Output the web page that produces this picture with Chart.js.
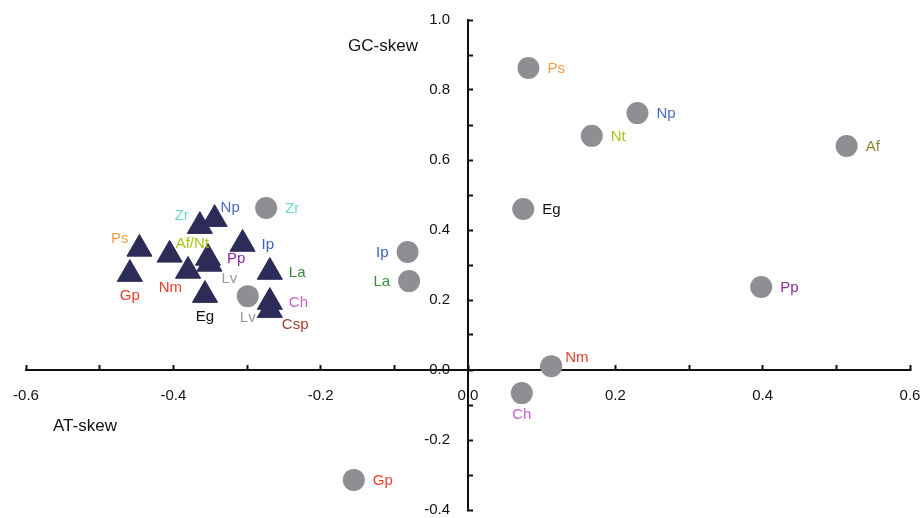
<!DOCTYPE html>
<html>
<head>
<meta charset="utf-8">
<script src="https://cdn.jsdelivr.net/npm/chart.js@4"></script>
<style>
  html, body { margin: 0; padding: 0; background: #fff; }
  #wrap { width: 921px; height: 518px; position: relative; }
</style>
</head>
<body>
<div id="wrap"><canvas id="chart"></canvas></div>
<script>
// circles (GC-skew by genome)
const circleNames = ['Ps', 'Np', 'Nt', 'Af', 'Eg', 'Zr', 'Ip', 'La', 'Pp', 'Nm', 'Ch', 'Lv', 'Gp'];
const circleX = [0.082, 0.230, 0.168, 0.514, 0.075, -0.274, -0.082, -0.080, 0.398, 0.113, 0.073, -0.299, -0.155];
const circleY = [0.863, 0.734, 0.669, 0.640, 0.460, 0.463, 0.337, 0.254, 0.237, 0.011, -0.066, 0.211, -0.314];

// triangles
const triNames = ['Ps', 'Gp', 'Af/Nt', 'Nm', 'Zr', 'Np', 'Pp', 'Lv', 'Eg', 'Ip', 'La', 'Ch', 'Csp'];
const triX = [-0.446, -0.459, -0.405, -0.380, -0.364, -0.344, -0.353, -0.351, -0.357, -0.306, -0.269, -0.269, -0.269];
const triY = [0.346, 0.274, 0.329, 0.283, 0.411, 0.431, 0.320, 0.303, 0.214, 0.360, 0.280, 0.194, 0.171];

const xTickLabels = ['-0.6', '-0.4', '-0.2', '0.0', '0.2', '0.4', '0.6'];
const yTickLabels = ['-0.4', '-0.2', '0.0', '0.2', '0.4', '0.6', '0.8', '1.0'];

// label placement (which side of the mark)
const circleAnchor = ['e', 'e', 'e', 'e', 'e', 'e', 'w', 'w', 'e', 'ne', 's', 's', 'e'];
const triAnchor = ['nw', 's', 'tne', 'sw', 'nw', 'tne', 'e', 'se', 's', 'e', 'e', 'e', 'se'];

const nameColors = {
  'Ps': '#f5a040', 'Np': '#4a6cc0', 'Nt': '#a8c41c', 'Af': '#8c8a38', 'Af/Nt': '#a8c41c',
  'Eg': '#111111', 'Zr': '#6ed6d0', 'Ip': '#3c5cc0', 'La': '#3a8a3a', 'Pp': '#8a2a9c',
  'Nm': '#e8402e', 'Ch': '#c862d2', 'Lv': '#9a9a9a', 'Gp': '#e8402e', 'Csp': '#a0402a'
};

const FONT = '"Liberation Sans", Arial, Helvetica, sans-serif';

// ラベル位置のずらし量
const anchorOffset = {
  e: [19, 1, 'left'], w: [-19, 1, 'right'], s: [0, 22, 'center'],
  ne: [14, -8, 'left'], tne: [6, -11, 'left'], nw: [-11, -10, 'right'],
  se: [12, 15, 'left'], sw: [-6, 17, 'right']
};

const pointLabels = {
  id: 'pointLabels',
  afterDatasetsDraw(chart) {
    const ctx = chart.ctx;
    ctx.save();
    ctx.font = '15px ' + FONT;
    ctx.textBaseline = 'middle';
    chart.data.datasets.forEach((ds, di) => {
      const meta = chart.getDatasetMeta(di);
      meta.data.forEach((el, i) => {
        const name = ds.names[i];
        const off = anchorOffset[ds.anchors[i]];
        ctx.fillStyle = nameColors[name];
        ctx.textAlign = off[2];
        ctx.fillText(name, el.x + off[0], el.y + off[1]);
      });
    });
    ctx.restore();
  }
};

// y軸の目盛りラベルと軸タイトル
const axisText = {
  id: 'axisText',
  afterDraw(chart) {
    const ctx = chart.ctx;
    const xs = chart.scales.x, ys = chart.scales.y;
    const x0 = xs.getPixelForValue(0);
    const y0 = ys.getPixelForValue(0);
    ctx.save();
    ctx.fillStyle = '#111';
    ctx.font = '15px ' + FONT;
    ctx.textAlign = 'right';
    ctx.textBaseline = 'middle';
    yTickLabels.forEach(t => {
      ctx.fillText(t, x0 - 18, ys.getPixelForValue(parseFloat(t)));
    });
    ctx.font = '17px ' + FONT;
    ctx.textAlign = 'center';
    ctx.fillText('GC-skew', x0 - 85, ys.top + 26);
    ctx.fillText('AT-skew', xs.left + 59, y0 + 56);
    ctx.restore();
  }
};

// 軸ラベル分の余白を使わせない
const noPad = s => {
  s.paddingLeft = 0;
  s.paddingRight = 0;
  s.paddingTop = 0;
  s.paddingBottom = 0;
};

new Chart(document.getElementById('chart'), {
  type: 'scatter',
  data: {
    datasets: [
      {
        label: 'triangles',
        names: triNames,
        anchors: triAnchor,
        data: triX.map((x, i) => ({ x: x, y: triY[i] })),
        pointStyle: 'triangle',
        pointRadius: 14.5,
        backgroundColor: '#2d2b57',
        borderColor: '#2d2b57',
        borderWidth: 1,
        order: 0
      },
      {
        label: 'circles',
        names: circleNames,
        anchors: circleAnchor,
        data: circleX.map((x, i) => ({ x: x, y: circleY[i] })),
        pointStyle: 'circle',
        pointRadius: 11,
        backgroundColor: '#8f8e92',
        borderWidth: 0,
        order: 1
      }
    ]
  },
  options: {
    responsive: true,
    maintainAspectRatio: false,
    animation: false,
    layout: { autoPadding: false, padding: { left: 26, right: 11, top: 20, bottom: 8 } },
    plugins: { legend: { display: false }, tooltip: { enabled: false } },
    scales: {
      x: {
        type: 'linear',
        position: { y: 0 },
        min: -0.6,
        max: 0.6,
        afterFit: noPad,
        border: { display: true, color: '#111', width: 2 },
        grid: { display: true, drawOnChartArea: false, drawTicks: true, tickLength: -6, tickColor: '#111', tickWidth: 2 },
        ticks: {
          stepSize: 0.1,
          autoSkip: false,
          maxRotation: 0,
          padding: 23,
          color: '#111',
          font: { size: 15, family: FONT },
          callback: (v, i) => (i % 2 === 0 ? xTickLabels[i / 2] : '')
        }
      },
      y: {
        type: 'linear',
        position: { x: 0 },
        min: -0.4,
        max: 1.0,
        afterFit: noPad,
        border: { display: true, color: '#111', width: 2 },
        grid: { display: true, drawOnChartArea: false, drawTicks: true, tickLength: -6, tickColor: '#111', tickWidth: 2 },
        ticks: { stepSize: 0.1, autoSkip: false, display: false }
      }
    }
  },
  plugins: [pointLabels, axisText]
});
</script>
</body>
</html>
